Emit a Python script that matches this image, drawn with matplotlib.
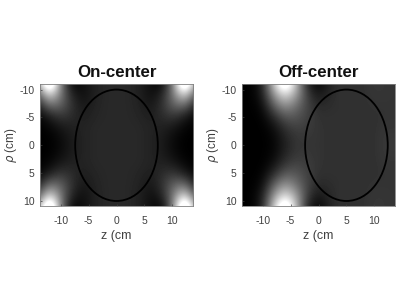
import numpy as np
import matplotlib
matplotlib.use('Agg')
import matplotlib.pyplot as plt
from matplotlib.patches import Ellipse

plt.rcParams['font.family'] = ['Liberation Sans', 'DejaVu Sans']
plt.rcParams['axes.unicode_minus'] = False

z_ticks = [-10, -5, 0, 5, 10]
rho_ticks = [-10, -5, 0, 5, 10]

# brightness on a coarse grid, rho -11..11 step 2 (rows), z -14..14 step 2 (cols)
on_center = [
    [.55, 1.5, .45, .00, .05, .12, .15, .15, .15, .12, .05, .00, .45, 1.5, .55],
    [.30, .85, .45, .12, .05, .12, .15, .15, .15, .12, .05, .12, .45, .85, .30],
    [.10, .40, .36, .18, .08, .13, .15, .15, .15, .13, .08, .18, .36, .40, .10],
    [.01, .10, .20, .16, .11, .14, .15, .15, .15, .14, .11, .16, .20, .10, .01],
    [.00, .02, .08, .12, .13, .15, .15, .15, .15, .15, .13, .12, .08, .02, .00],
    [.00, .00, .04, .10, .13, .15, .15, .15, .15, .15, .13, .10, .04, .00, .00],
    [.00, .00, .04, .10, .13, .15, .15, .15, .15, .15, .13, .10, .04, .00, .00],
    [.00, .02, .08, .12, .13, .15, .15, .15, .15, .15, .13, .12, .08, .02, .00],
    [.01, .10, .20, .16, .11, .14, .15, .15, .15, .14, .11, .16, .20, .10, .01],
    [.10, .40, .36, .18, .08, .13, .15, .15, .15, .13, .08, .18, .36, .40, .10],
    [.30, .85, .45, .12, .05, .12, .15, .15, .15, .12, .05, .12, .45, .85, .30],
    [.55, 1.5, .45, .00, .05, .12, .15, .15, .15, .12, .05, .00, .45, 1.5, .55],
]
off_center = [
    [.00, .00, .12, .75, 1.3, .70, .12, .00, .13, .19, .18, .18, .21, .20, .19],
    [.00, .00, .10, .55, .85, .60, .22, .08, .15, .19, .18, .18, .20, .20, .19],
    [.00, .00, .04, .35, .55, .42, .25, .15, .17, .18, .18, .18, .19, .19, .19],
    [.00, .00, .01, .15, .32, .32, .24, .18, .18, .18, .18, .18, .18, .19, .19],
    [.00, .00, .00, .05, .18, .24, .22, .19, .18, .18, .18, .18, .18, .20, .20],
    [.00, .00, .00, .02, .12, .20, .20, .19, .18, .18, .18, .18, .18, .21, .21],
    [.00, .00, .00, .02, .12, .20, .20, .19, .18, .18, .18, .18, .18, .21, .21],
    [.00, .00, .00, .05, .18, .24, .22, .19, .18, .18, .18, .18, .18, .20, .20],
    [.00, .00, .01, .15, .32, .32, .24, .18, .18, .18, .18, .18, .18, .19, .19],
    [.00, .00, .04, .35, .55, .42, .25, .15, .17, .18, .18, .18, .19, .19, .19],
    [.00, .00, .10, .55, .85, .60, .22, .08, .15, .19, .18, .18, .20, .20, .19],
    [.00, .00, .12, .75, 1.3, .70, .12, .00, .13, .19, .18, .18, .21, .20, .19],
]
panels = [('On-center', on_center, 0), ('Off-center', off_center, 5)]

fig = plt.figure(figsize=(4, 2.9), dpi=100)
gray = '#404040'
lefts = [40, 242]
for (title, vals, z0), left in zip(panels, lefts):
    ax = fig.add_axes([left / 400, 1 - 206 / 290, 153 / 400, 122 / 290])
    ax.imshow(np.array(vals), cmap='gray', vmin=0, vmax=0.95, aspect='auto',
              extent=[-15, 15, 12, -12], interpolation='bicubic',
              interpolation_stage='data')
    ax.add_patch(Ellipse((z0, 0), 14.8, 20, fill=False, ec='black', lw=1.3))
    ax.set_xlim(-13.7, 13.7)
    ax.set_ylim(10.9, -11)
    ax.set_xticks(z_ticks)
    ax.set_yticks(rho_ticks)
    ax.tick_params(labelsize=7.5, colors=gray, direction='in', length=1.5, width=0.5)
    ax.tick_params(axis='x', pad=7)
    ax.tick_params(axis='y', pad=4)
    for s in ax.spines.values():
        s.set_color('#808080')
        s.set_linewidth(0.6)
    ax.set_title(title, fontsize=12.2, fontweight='bold', pad=5, color='#111111')
    ax.set_xlabel('z (cm', fontsize=9, color=gray, labelpad=3)
    ax.set_ylabel(r'$\rho$ (cm)', fontsize=8.5, color=gray, labelpad=0)

fig.savefig('out.png', dpi=100)
